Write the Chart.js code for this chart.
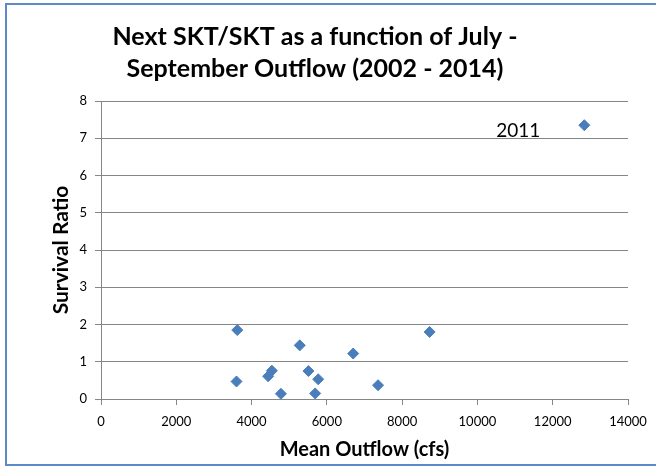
<!DOCTYPE html>
<html>
<head>
<meta charset="utf-8">
<script src="https://cdn.jsdelivr.net/npm/chart.js@4.4.1/dist/chart.umd.min.js"></script>
<style>
  html, body { margin: 0; padding: 0; background: #fff; overflow: hidden; }
  #wrap { position: relative; width: 656px; height: 467px; }
  #wrap canvas { position: absolute; left: 0; top: 0; }
  #frame {
    position: absolute; left: 5px; top: 3px; width: 720px; height: 463px;
    border: 2px solid #5b8ac6; box-sizing: border-box; pointer-events: none;
  }
</style>
</head>
<body>
<div id="wrap">
  <canvas id="chart" width="656" height="467"></canvas>
  <div id="frame"></div>
</div>
<script>
// values
const outflow  = [3600, 3620, 4440, 4540, 4780, 5280, 5510, 5690, 5770, 6700, 7360, 8730, 12840];
const survival = [0.47, 1.85, 0.61, 0.76, 0.14, 1.44, 0.75, 0.15, 0.53, 1.22, 0.37, 1.80, 7.35];
const pointLabels = ['', '', '', '', '', '', '', '', '', '', '', '', '2011'];

const titleLines = ['Next SKT/SKT as a function of July -', 'September Outflow (2002 - 2014)'];
const xTitle = 'Mean Outflow (cfs)';
const yTitle = 'Survival Ratio';

const FONT = 'Lato, "Open Sans", sans-serif';
const GRID = '#868686';

// title is not centred on the plot in the original, so draw it by hand
const titlePlugin = {
    id: 'excelTitle',
    afterDraw(chart) {
        const ctx = chart.ctx;
        ctx.save();
        ctx.fillStyle = '#000';
        ctx.font = 'bold 25px ' + FONT;
        ctx.textAlign = 'center';
        ctx.textBaseline = 'middle';
        titleLines.forEach((t, i) => ctx.fillText(t, 315, 37 + i * 32));
        ctx.restore();
    }
};

// year label beside the outlier point
const pointLabelPlugin = {
    id: 'pointLabels',
    afterDatasetsDraw(chart) {
        const ctx = chart.ctx;
        const meta = chart.getDatasetMeta(0);
        ctx.save();
        ctx.fillStyle = '#000';
        ctx.font = '19px ' + FONT;
        ctx.textAlign = 'right';
        ctx.textBaseline = 'alphabetic';
        meta.data.forEach((pt, i) => {
            if (!pointLabels[i]) return;
            ctx.fillText(pointLabels[i], pt.x - 44, pt.y + 12);
        });
        ctx.restore();
    }
};

const ctx = document.getElementById('chart').getContext('2d');

new Chart(ctx, {
    type: 'scatter',
    data: {
        datasets: [{
            label: 'Survival Ratio',
            data: outflow.map((x, i) => ({ x: x, y: survival[i] })),
            pointStyle: 'rectRot',
            pointRadius: 5.5,
            pointBackgroundColor: '#4a7ebb',
            pointBorderColor: '#4a7ebb',
            pointBorderWidth: 1
        }]
    },
    options: {
        responsive: false,
        animation: false,
        layout: { padding: { left: 46, right: 28, top: 101, bottom: 5 } },
        plugins: {
            legend: { display: false },
            tooltip: { enabled: false },
            title: { display: false }
        },
        scales: {
            x: {
                type: 'linear',
                min: 0,
                max: 14000,
                afterFit: s => { s.height = 63; },
                ticks: {
                    stepSize: 2000,
                    color: '#000',
                    padding: 9,
                    maxRotation: 0,
                    font: { family: FONT, size: 13 },
                    callback: v => String(v)
                },
                grid: { drawOnChartArea: false, color: GRID, tickLength: 6 },
                border: { color: GRID },
                title: {
                    display: true,
                    text: xTitle,
                    color: '#000',
                    padding: { top: 0, bottom: 0 },
                    font: { family: FONT, size: 20, weight: 'bold' }
                }
            },
            y: {
                min: 0,
                max: 8,
                afterFit: s => { s.width = 55; },
                ticks: {
                    stepSize: 1,
                    color: '#000',
                    padding: 8,
                    font: { family: FONT, size: 13 }
                },
                grid: { color: GRID, tickLength: 6 },
                border: { color: GRID },
                title: {
                    display: true,
                    text: yTitle,
                    color: '#000',
                    padding: { top: 3, bottom: 3 },
                    font: { family: FONT, size: 21, weight: 'bold' }
                }
            }
        }
    },
    plugins: [titlePlugin, pointLabelPlugin]
});
</script>
</body>
</html>
